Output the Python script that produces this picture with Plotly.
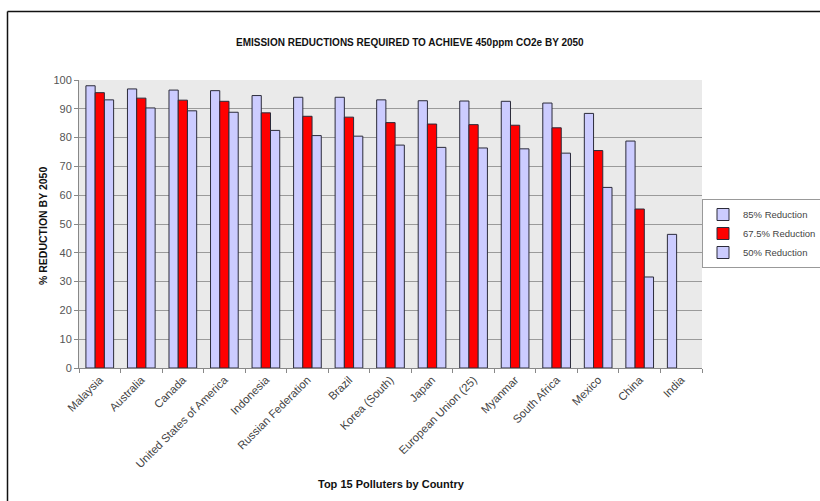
import plotly.graph_objects as go

countries = [
    "Malaysia", "Australia", "Canada", "United States of America", "Indonesia",
    "Russian Federation", "Brazil", "Korea (South)", "Japan", "European Union (25)",
    "Myanmar", "South Africa", "Mexico", "China", "India",
]
reduction_85 = [98.0, 96.9, 96.5, 96.3, 94.6, 94.0, 94.0, 93.1, 92.8, 92.7, 92.6, 92.0, 88.4, 78.8, 46.4]
reduction_675 = [95.6, 93.7, 93.0, 92.6, 88.6, 87.4, 87.1, 85.2, 84.7, 84.5, 84.3, 83.4, 75.5, 55.2, None]
reduction_50 = [93.1, 90.3, 89.3, 88.8, 82.5, 80.7, 80.5, 77.4, 76.6, 76.4, 76.1, 74.6, 62.7, 31.6, None]

series_names = ["85% Reduction", "67.5% Reduction", "50% Reduction"]
series_colors = ["#CCCCFF", "#FF0000", "#CCCCFF"]

FONT = "Liberation Sans, Arial, sans-serif"
W, H = 820, 501
L, R, T, B = 79, 118, 80, 133
PW, PH = W - L - R, H - T - B


def px_x(x):
    return (x - L) / PW


def px_y(y):
    return (H - B - y) / PH


fig = go.Figure()
for name, vals, col in zip(series_names, [reduction_85, reduction_675, reduction_50], series_colors):
    fig.add_trace(go.Bar(
        x=countries, y=vals, name=name,
        marker=dict(color=col, line=dict(color="#2b2b3a", width=1)),
    ))

fig.update_layout(
    width=W, height=H,
    margin=dict(l=L, r=R, t=T, b=B, autoexpand=False),
    paper_bgcolor="white",
    plot_bgcolor="#EAEAEA",
    barmode="group",
    bargap=1.5 / 4.5,
    bargroupgap=0,
    font=dict(family=FONT, color="#333333"),
    showlegend=True,
    legend=dict(
        x=px_x(702), y=px_y(199), xanchor="left", yanchor="top",
        bgcolor="white", bordercolor="#999999", borderwidth=1,
        font=dict(size=9.5, color="#444444", family=FONT),
        tracegroupgap=0, itemwidth=30,
    ),
    xaxis=dict(
        type="category",
        tickangle=-45,
        tickfont=dict(size=11.3, color="#444444", family=FONT),
        ticks="outside", ticklen=4, tickcolor="#888888",
        tickson="boundaries",
        showline=True, linecolor="#888888", linewidth=1,
        showgrid=False,
        automargin=False,
    ),
    yaxis=dict(
        range=[0, 100],
        dtick=10,
        tickfont=dict(size=11, color="#555555", family=FONT),
        ticks="outside", ticklen=4, tickcolor="#888888",
        showline=True, linecolor="#888888", linewidth=1,
        showgrid=True, gridcolor="#9a9a9a", gridwidth=1,
        zeroline=False,
        automargin=False,
    ),
    annotations=[
        dict(text="<b>EMISSION REDUCTIONS REQUIRED TO ACHIEVE 450ppm CO2e BY 2050</b>",
             x=px_x(410), y=px_y(42), xref="paper", yref="paper",
             xanchor="center", yanchor="middle", showarrow=False,
             font=dict(size=10, color="#111111", family=FONT)),
        dict(text="<b>% REDUCTION BY 2050</b>",
             x=px_x(43), y=px_y(226), xref="paper", yref="paper",
             xanchor="center", yanchor="middle", showarrow=False, textangle=-90,
             font=dict(size=10.5, color="#111111", family=FONT)),
        dict(text="<b>Top 15 Polluters by Country</b>",
             x=px_x(391), y=px_y(484), xref="paper", yref="paper",
             xanchor="center", yanchor="middle", showarrow=False,
             font=dict(size=11, color="#111111", family=FONT)),
    ],
    shapes=[
        # frame around the chart area
        dict(type="line", xref="paper", yref="paper",
             x0=px_x(7.5), y0=px_y(11.5), x1=px_x(830), y1=px_y(11.5),
             line=dict(color="#111111", width=1.5)),
        dict(type="line", xref="paper", yref="paper",
             x0=px_x(7.5), y0=px_y(11.5), x1=px_x(7.5), y1=px_y(520),
             line=dict(color="#111111", width=1.5)),
    ],
)

fig.write_html("out.html")
